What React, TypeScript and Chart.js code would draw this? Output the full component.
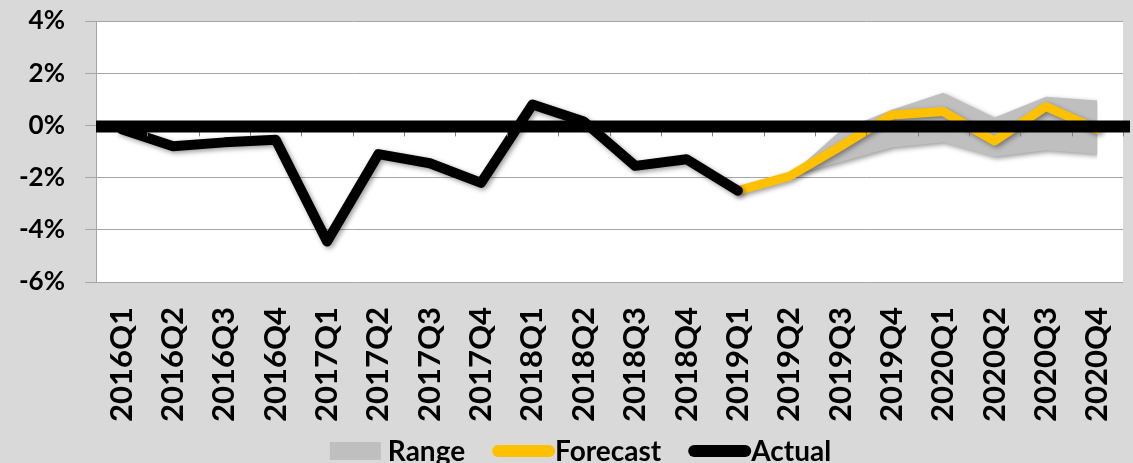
import React, { useEffect, useRef } from 'react';
import { Chart, registerables } from 'chart.js';

Chart.register(...registerables);

const categories = [
  '2016Q1', '2016Q2', '2016Q3', '2016Q4',
  '2017Q1', '2017Q2', '2017Q3', '2017Q4',
  '2018Q1', '2018Q2', '2018Q3', '2018Q4',
  '2019Q1', '2019Q2', '2019Q3', '2019Q4',
  '2020Q1', '2020Q2', '2020Q3', '2020Q4',
];

const actual = [
  -0.15, -0.8, -0.65, -0.55,
  -4.45, -1.1, -1.45, -2.2,
  0.8, 0.15, -1.55, -1.3,
  -2.5, null, null, null,
  null, null, null, null,
];

const forecast = [
  null, null, null, null,
  null, null, null, null,
  null, null, null, null,
  -2.5, -1.95, -0.8, 0.4,
  0.53, -0.6, 0.72, -0.15,
];

const rangeLow = [
  null, null, null, null,
  null, null, null, null,
  null, null, null, null,
  null, -1.95, -1.4, -0.85,
  -0.65, -1.2, -0.95, -1.1,
];

const rangeHigh = [
  null, null, null, null,
  null, null, null, null,
  null, null, null, null,
  null, -1.95, -0.2, 0.6,
  1.25, 0.3, 1.1, 0.95,
];

const yMin = -6;
const yMax = 4;
const yStep = 2;

const GRAY_BG = '#D9D9D9';
const GRID = '#A6A6A6';
const RANGE_COLOR = '#BFBFBF';
const FORECAST_COLOR = '#FFC000';
const ACTUAL_COLOR = '#000000';
const FONT = 'Lato, "Open Sans", sans-serif';

const plotBgPlugin = {
  id: 'plotBg',
  beforeDraw(chart: any) {
    const { ctx, chartArea } = chart;
    ctx.save();
    ctx.fillStyle = '#FFFFFF';
    ctx.fillRect(chartArea.left, chartArea.top, chartArea.right - chartArea.left, chartArea.bottom - chartArea.top);
    ctx.restore();
  },
};

const shadowPlugin = {
  id: 'shadowPlugin',
  beforeDatasetsDraw(chart: any) {
    const ctx = chart.ctx;
    ctx.save();
    ctx.shadowColor = 'rgba(0,0,0,0.4)';
    ctx.shadowBlur = 5;
    ctx.shadowOffsetX = 2;
    ctx.shadowOffsetY = 2;
  },
  afterDatasetsDraw(chart: any) {
    const ctx = chart.ctx;
    ctx.restore();
    // zero axis line with category tick marks
    const x = chart.scales.x;
    const y = chart.scales.y;
    const y0 = y.getPixelForValue(0) + 1;
    const n = categories.length;
    const half = (x.getPixelForTick(1) - x.getPixelForTick(0)) / 2;
    ctx.save();
    ctx.strokeStyle = '#7F7F7F';
    ctx.lineWidth = 1;
    for (let i = 0; i < n; i++) {
      const px = Math.round(x.getPixelForTick(i) + half) + 0.5;
      ctx.beginPath();
      ctx.moveTo(px, y0);
      ctx.lineTo(px, y0 + 10);
      ctx.stroke();
    }
    ctx.strokeStyle = '#000000';
    ctx.lineWidth = 12;
    ctx.lineCap = 'butt';
    ctx.beginPath();
    ctx.moveTo(chart.chartArea.left, y0);
    ctx.lineTo(chart.chartArea.right + 7, y0);
    ctx.stroke();
    ctx.restore();
  },
};

const legendPlugin = {
  id: 'customLegend',
  afterDraw(chart: any) {
    const ctx = chart.ctx;
    const ds = chart.data.datasets.filter((d: any) => d.legendKind);
    ctx.save();
    ctx.font = 'bold 28px ' + FONT;
    ctx.textBaseline = 'alphabetic';
    const itemGap = 27;
    const items = ds.map((d: any) => {
      const symW = d.legendKind === 'box' ? 51 : 63;
      const symGap = d.legendKind === 'box' ? 7 : 0;
      const tw = ctx.measureText(d.label).width;
      return { d, symW, symGap, tw, w: symW + symGap + tw };
    });
    const total = items.reduce((s: number, it: any) => s + it.w, 0) + itemGap * (items.length - 1);
    let cx = chart.width / 2 + 14 - total / 2;
    const base = chart.height - 2;
    const midY = chart.height - 12;
    items.forEach((it: any) => {
      const d = it.d;
      if (d.legendKind === 'box') {
        ctx.fillStyle = d.backgroundColor;
        ctx.fillRect(cx, midY - 9, it.symW, 18);
      } else {
        ctx.strokeStyle = d.borderColor;
        ctx.lineWidth = 12;
        ctx.lineCap = 'round';
        ctx.beginPath();
        ctx.moveTo(cx + 6, midY);
        ctx.lineTo(cx + it.symW - 6, midY);
        ctx.stroke();
      }
      ctx.fillStyle = '#000000';
      ctx.fillText(d.label, cx + it.symW + it.symGap, base);
      cx += it.w + itemGap;
    });
    ctx.restore();
  },
};

export default function App() {
  const canvasRef = useRef<HTMLCanvasElement>(null);

  useEffect(() => {
    document.body.style.margin = '0';
    const canvas = canvasRef.current;
    if (!canvas) return;
    const chart = new Chart(canvas, {
      type: 'line',
      data: {
        labels: categories,
        datasets: [
          {
            label: 'Range low',
            data: rangeLow,
            borderColor: 'transparent',
            backgroundColor: 'transparent',
            borderWidth: 0,
            pointRadius: 0,
            fill: false,
            order: 3,
          } as any,
          {
            label: 'Range',
            legendKind: 'box',
            data: rangeHigh,
            borderColor: 'transparent',
            backgroundColor: RANGE_COLOR,
            borderWidth: 0,
            pointRadius: 0,
            fill: '-1',
            order: 3,
          } as any,
          {
            label: 'Forecast',
            legendKind: 'line',
            data: forecast,
            borderColor: FORECAST_COLOR,
            backgroundColor: FORECAST_COLOR,
            borderWidth: 9,
            borderJoinStyle: 'round',
            borderCapStyle: 'round',
            pointRadius: 0,
            fill: false,
            order: 2,
          } as any,
          {
            label: 'Actual',
            legendKind: 'line',
            data: actual,
            borderColor: ACTUAL_COLOR,
            backgroundColor: ACTUAL_COLOR,
            borderWidth: 10,
            borderJoinStyle: 'round',
            borderCapStyle: 'round',
            pointRadius: 0,
            fill: false,
            order: 1,
          } as any,
        ],
      },
      options: {
        animation: false,
        responsive: true,
        maintainAspectRatio: false,
        layout: { padding: { top: 21, right: 10, bottom: 40, left: 0 } },
        plugins: {
          legend: { display: false },
          tooltip: { enabled: false },
        },
        scales: {
          x: {
            offset: true,
            grid: { display: false, drawTicks: false },
            border: { display: false },
            ticks: {
              autoSkip: false,
              minRotation: 90,
              maxRotation: 90,
              padding: 25,
              color: '#000000',
              font: { family: FONT, weight: 'bold', size: 31 },
            },
            afterFit(scale: any) {
              scale.height = 141;
              scale.paddingLeft = 0;
              scale.paddingRight = 0;
            },
          },
          y: {
            min: yMin,
            max: yMax,
            grid: { color: GRID, lineWidth: 1, tickLength: 11, drawTicks: true },
            border: { display: true, color: GRID, width: 1 },
            ticks: {
              stepSize: yStep,
              padding: 20,
              color: '#000000',
              font: { family: FONT, weight: 'bold', size: 26 },
              callback: (v: any) => v + '%',
            },
            afterFit(scale: any) {
              scale.width = 96;
              scale.paddingTop = 0;
              scale.paddingBottom = 0;
            },
          },
        },
      } as any,
      plugins: [plotBgPlugin, shadowPlugin, legendPlugin],
    });
    return () => chart.destroy();
  }, []);

  return (
    <div style={{ position: 'relative', width: 1133, height: 463, background: GRAY_BG }}>
      <canvas ref={canvasRef} />
    </div>
  );
}
